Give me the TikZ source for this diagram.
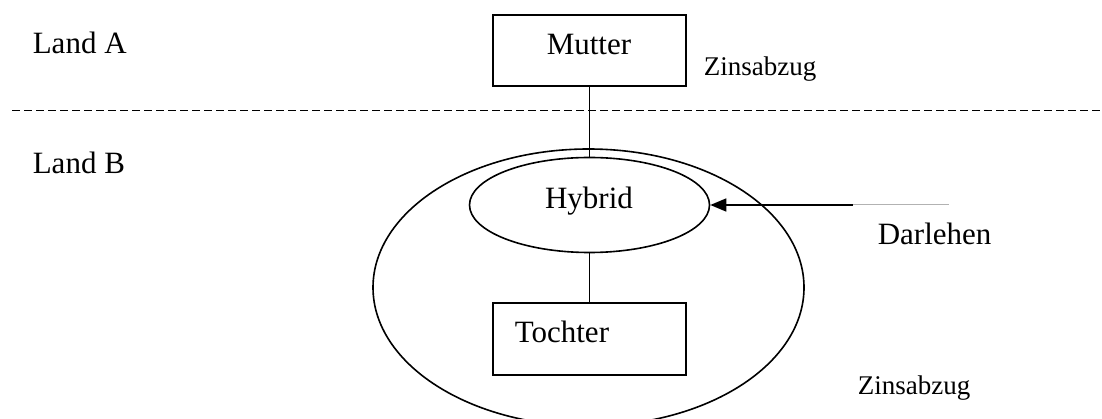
\documentclass[tikz,border=0pt]{standalone}
\usepackage{fontspec}
\setmainfont{Liberation Serif}
\usetikzlibrary{arrows.meta,shapes.geometric}
\begin{document}
\begin{tikzpicture}[x=1pt,y=-1pt,
  line width=1.6pt,
  box/.style={draw, rectangle, minimum width=193pt, minimum height=71pt, inner sep=0pt},
  oval/.style={draw, ellipse, inner sep=0pt},
  big/.style={font=\fontsize{31}{36}\selectfont},
  small/.style={font=\fontsize{27}{32}\selectfont},
  sep/.style={dash pattern=on 7.5pt off 4.5pt, line width=1.5pt}]
\useasboundingbox (0,0) rectangle (1102,419);
% frontier between the countries
\coordinate (sepL) at (12,110.5);
\coordinate (sepR) at (1100,110.5);
\draw[sep] (sepL) -- (sepR);
% shapes
\node[box] (mutter) at (589.5,50.5) {};
\node[oval, minimum width=431pt, minimum height=277pt] (outer) at (588.5,287.5) {};
\node[oval, minimum width=240pt, minimum height=95pt] (hybrid) at (589.5,205) {};
\node[box, minimum height=72pt] (tochter) at (589.5,339) {};
% texts
\node[big, anchor=base, inner sep=0pt] (tMutter) at (589,55) {Mutter};
\node[big, anchor=base, inner sep=0pt] (tHybrid) at (589,208.3) {Hybrid};
\node[big, anchor=base west, inner sep=0pt] (tTochter) at (514,342.7) {Tochter};
\node[big, anchor=base west, inner sep=0pt] (landA) at (32,53.3) {Land A};
\node[big, anchor=base west, inner sep=0pt] (landB) at (32,173.3) {Land B};
\node[big, anchor=base west, inner sep=0pt] (darlehen) at (877,245) {Darlehen};
\node[small, anchor=base west, inner sep=0pt] (zinsA) at (703,76) {Zinsabzug};
\node[small, anchor=base west, inner sep=0pt] (zinsB) at (857,394) {Zinsabzug};
% connectors
\draw (mutter.south) -- (hybrid.north);
\draw (hybrid.south) -- (tochter.north);
\coordinate (darl) at (853,205);
\coordinate (darlEnd) at (949,205);
\draw[-{Triangle[length=16pt,width=13pt]}] (darl) -- (hybrid.east);
\draw[black!30, line width=1pt] (darl) -- (darlEnd);
\end{tikzpicture}
\end{document}
